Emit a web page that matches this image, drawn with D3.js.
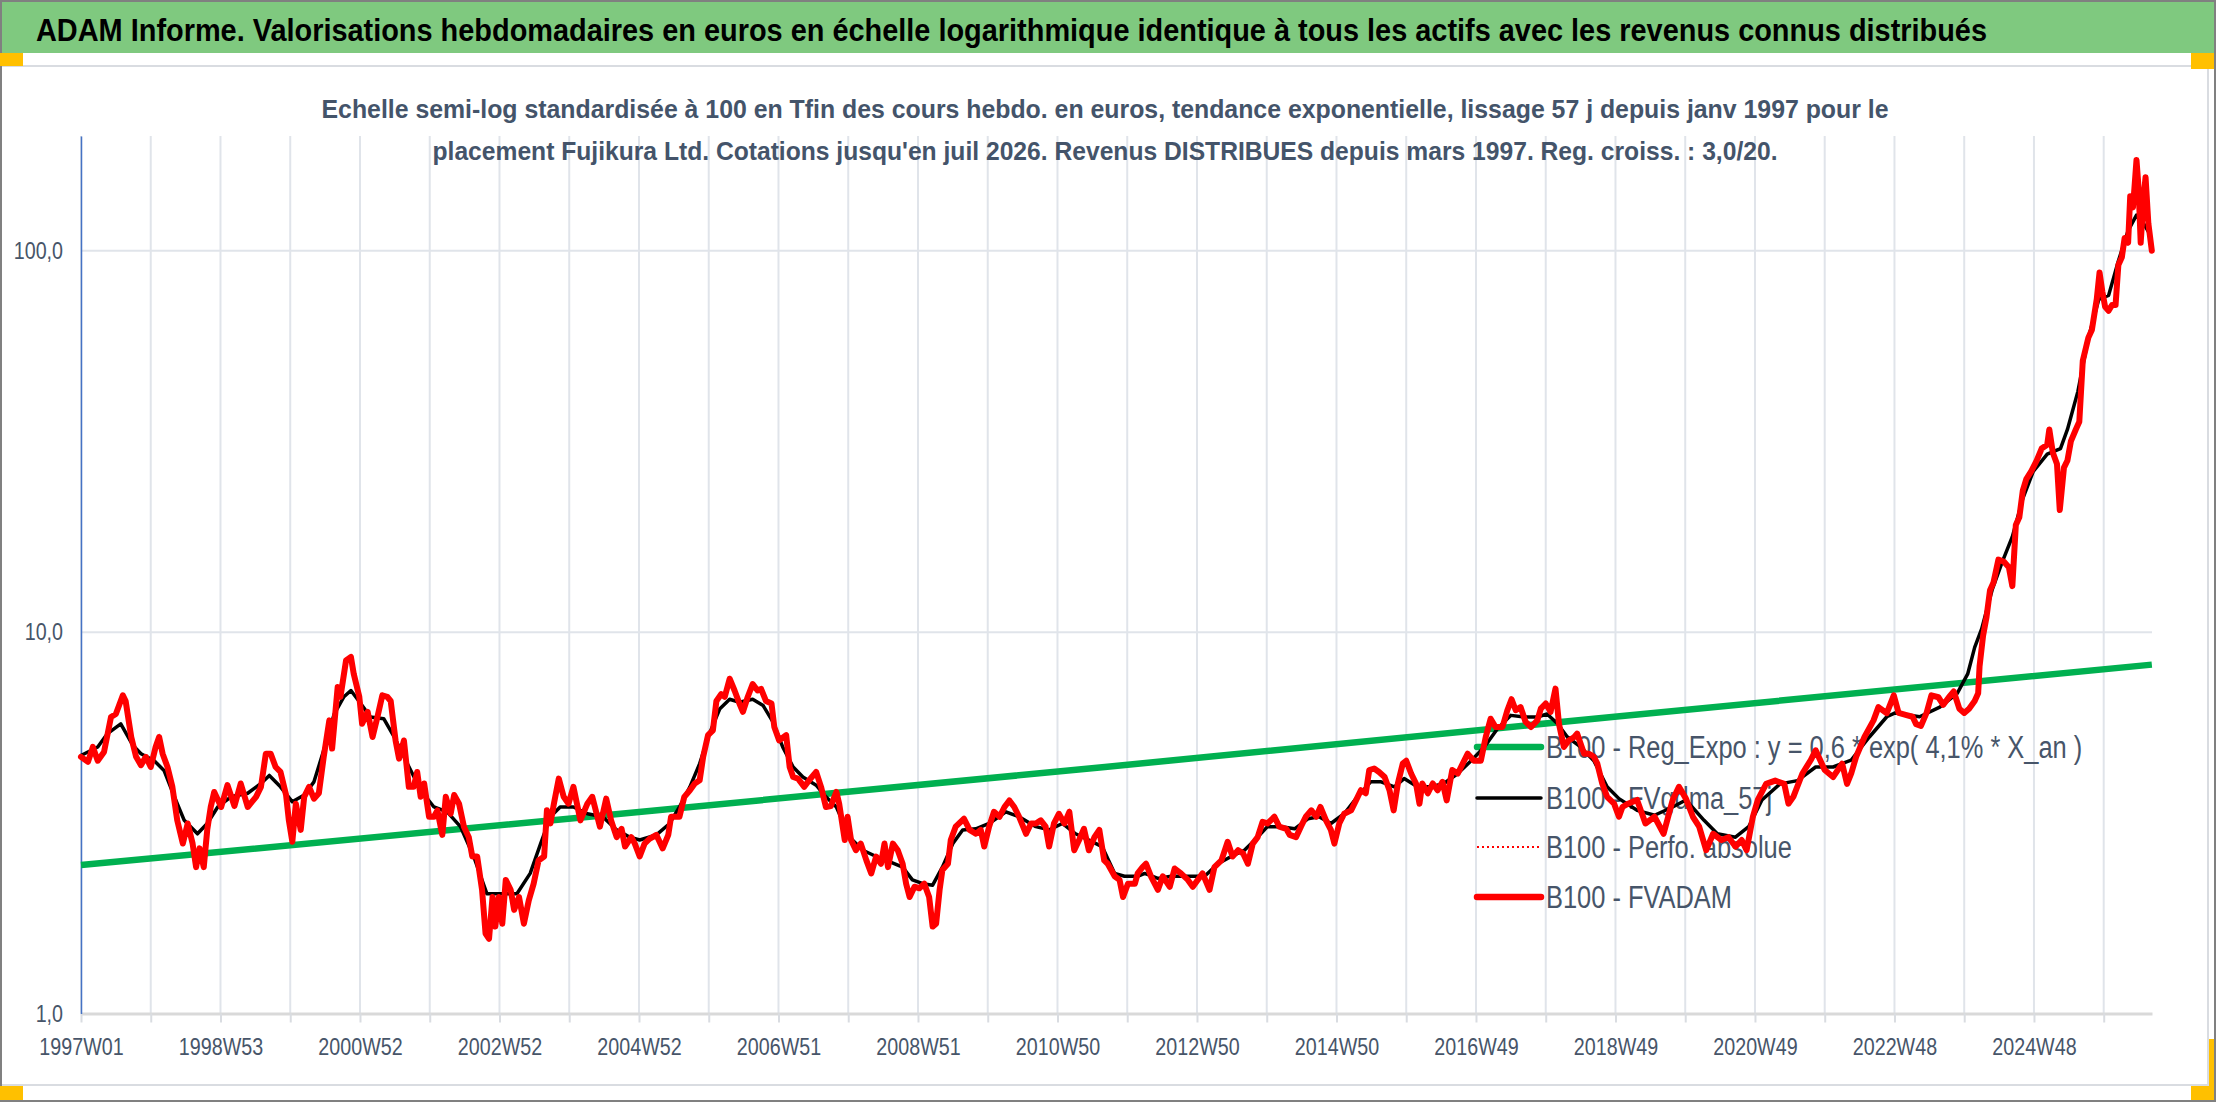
<!DOCTYPE html>
<html>
<head>
<meta charset="utf-8">
<script src="https://cdn.jsdelivr.net/npm/d3@7"></script>
<style>
  body { margin: 0; background: #fff; }
  svg { display: block; }
  text { font-family: "Liberation Sans Narrow", "Arial Narrow", "Liberation Sans", sans-serif; }
</style>
</head>
<body>
<svg id="chart" width="2216" height="1102"></svg>
<script>
// ---- data (x = position in 52-week blocks since 1997W01, y = base 100 value) ----
var nWeeks = 1545;
var xTickLabels = ["1997W01", "1998W53", "2000W52", "2002W52", "2004W52", "2006W51", "2008W51",
  "2010W50", "2012W50", "2014W50", "2016W49", "2018W49", "2020W49", "2022W48", "2024W48"];
var yTickValues = [1, 10, 100];

var regExpo = [[0, 2.45], [7.29, 3.28], [14.68, 4.43], [22.06, 6.02], [29.69, 8.22]];

var fvgdma = [
  [0, 4.75], [0.24, 5.0], [0.38, 5.42], [0.57, 5.75], [0.74, 5.06], [0.86, 4.8], [1.05, 4.6], [1.19, 4.34],
  [1.34, 3.70], [1.48, 3.21], [1.67, 2.96], [1.81, 3.15], [1.96, 3.48], [2.15, 3.70], [2.39, 3.78], [2.58, 4.01],
  [2.70, 4.21], [2.86, 3.93], [3.03, 3.59], [3.20, 3.74], [3.34, 4.05], [3.48, 4.9], [3.63, 6.1], [3.77, 6.77],
  [3.87, 7.03], [4.01, 6.5], [4.15, 5.99], [4.34, 5.93], [4.49, 5.31], [4.68, 4.52], [4.87, 3.85], [5.06, 3.48],
  [5.25, 3.38], [5.44, 3.09], [5.63, 2.58], [5.82, 2.06], [6.06, 2.06], [6.25, 2.06], [6.44, 2.33], [6.59, 2.79],
  [6.73, 3.28], [6.87, 3.48], [7.06, 3.48], [7.26, 3.34], [7.48, 3.28], [7.68, 3.03], [7.87, 2.90], [8.01, 2.85],
  [8.25, 2.94], [8.44, 3.15], [8.58, 3.48], [8.73, 3.93], [8.87, 4.52], [9.01, 5.42], [9.16, 6.30], [9.30, 6.67],
  [9.44, 6.55], [9.63, 6.67], [9.78, 6.42], [9.92, 5.82], [10.06, 5.0], [10.21, 4.43], [10.35, 4.17], [10.54, 3.97],
  [10.68, 3.70], [10.83, 3.48], [11.02, 2.90], [11.21, 2.68], [11.40, 2.58], [11.59, 2.50], [11.78, 2.42], [11.92, 2.24],
  [12.07, 2.19], [12.21, 2.17], [12.35, 2.42], [12.50, 2.79], [12.64, 3.03], [12.83, 3.05], [13.02, 3.15], [13.26, 3.38],
  [13.45, 3.28], [13.69, 3.09], [13.88, 3.03], [14.07, 3.15], [14.26, 2.96], [14.45, 2.85], [14.64, 2.74], [14.82, 2.33],
  [14.96, 2.29], [15.15, 2.29], [15.25, 2.33], [15.44, 2.26], [15.63, 2.29], [15.87, 2.29], [16.11, 2.29], [16.30, 2.47],
  [16.49, 2.58], [16.68, 2.68], [16.87, 2.90], [17.01, 3.09], [17.21, 3.09], [17.40, 3.05], [17.59, 3.24], [17.75, 3.28],
  [17.92, 3.15], [18.11, 3.34], [18.30, 3.70], [18.49, 4.05], [18.64, 4.05], [18.83, 3.93], [18.97, 4.13], [19.16, 3.93],
  [19.35, 3.93], [19.54, 4.01], [19.74, 4.26], [19.93, 4.6], [20.12, 5.0], [20.31, 5.59], [20.50, 6.05], [20.69, 5.99],
  [20.88, 5.99], [21.02, 6.1], [21.17, 5.75], [21.31, 5.31], [21.50, 5.0], [21.69, 4.6], [21.88, 3.93], [22.05, 3.66],
  [22.31, 3.41], [22.56, 3.31], [22.82, 3.48], [23.01, 3.63], [23.27, 3.21], [23.46, 2.96], [23.72, 2.90], [23.91, 3.09],
  [24.10, 3.63], [24.36, 4.0], [24.61, 4.08], [24.87, 4.43], [25.12, 4.43], [25.38, 4.62], [25.64, 5.31], [25.89, 6.0],
  [26.01, 6.14], [26.36, 6.0], [26.65, 6.36], [26.90, 6.91], [27.05, 7.77], [27.15, 9.12], [27.25, 10.2], [27.40, 12.9],
  [27.54, 15.2], [27.69, 17.8], [27.84, 22.4], [27.99, 26.4], [28.19, 29.3], [28.38, 30.3], [28.48, 34.0], [28.63, 42.8],
  [28.78, 59.2], [28.93, 74.6], [29.07, 76.4], [29.21, 94], [29.35, 113], [29.47, 124], [29.57, 118], [29.67, 110]
];

var fvadam = [
  [0, 4.71], [0.10, 4.57], [0.17, 5.0], [0.24, 4.6], [0.33, 4.85], [0.43, 5.99], [0.50, 6.1], [0.60, 6.83],
  [0.64, 6.6], [0.72, 5.31], [0.79, 4.71], [0.86, 4.48], [0.93, 4.71], [1.00, 4.43], [1.07, 5.0], [1.12, 5.31],
  [1.17, 4.8], [1.24, 4.43], [1.31, 3.93], [1.38, 3.21], [1.46, 2.79], [1.53, 3.15], [1.60, 2.79], [1.65, 2.42],
  [1.70, 2.71], [1.76, 2.42], [1.81, 3.03], [1.86, 3.48], [1.91, 3.81], [2.01, 3.48], [2.10, 3.97], [2.20, 3.5],
  [2.29, 4.01], [2.39, 3.48], [2.51, 3.70], [2.58, 3.93], [2.65, 4.80], [2.72, 4.80], [2.79, 4.43], [2.86, 4.30],
  [2.94, 3.74], [2.98, 3.21], [3.03, 2.82], [3.08, 3.55], [3.15, 3.03], [3.20, 3.70], [3.27, 3.93], [3.34, 3.66],
  [3.41, 3.78], [3.48, 4.71], [3.56, 5.87], [3.60, 4.95], [3.68, 7.18], [3.72, 6.77], [3.80, 8.43], [3.87, 8.61],
  [3.91, 7.78], [3.99, 6.77], [4.03, 5.75], [4.11, 6.18], [4.18, 5.31], [4.25, 5.99], [4.32, 6.83], [4.39, 6.77],
  [4.44, 6.6], [4.51, 5.2], [4.56, 4.66], [4.63, 5.2], [4.70, 3.93], [4.77, 3.93], [4.82, 4.30], [4.87, 3.70],
  [4.92, 4.01], [4.99, 3.28], [5.06, 3.28], [5.11, 3.41], [5.18, 2.94], [5.23, 3.70], [5.30, 3.34], [5.35, 3.74],
  [5.42, 3.55], [5.49, 3.09], [5.56, 2.90], [5.61, 2.58], [5.68, 2.58], [5.75, 2.11], [5.80, 1.62], [5.85, 1.57],
  [5.90, 2.02], [5.94, 1.69], [5.99, 2.02], [6.04, 1.72], [6.09, 2.24], [6.16, 2.11], [6.21, 1.87], [6.28, 2.02],
  [6.35, 1.72], [6.42, 1.98], [6.49, 2.19], [6.56, 2.52], [6.64, 2.58], [6.68, 3.41], [6.73, 3.15], [6.78, 3.55],
  [6.85, 4.13], [6.92, 3.70], [6.99, 3.55], [7.06, 3.93], [7.16, 3.21], [7.26, 3.55], [7.33, 3.70], [7.44, 3.09],
  [7.53, 3.66], [7.60, 3.21], [7.68, 2.90], [7.75, 3.05], [7.80, 2.74], [7.89, 2.90], [7.94, 2.79], [8.01, 2.58],
  [8.08, 2.79], [8.15, 2.87], [8.25, 2.94], [8.34, 2.71], [8.42, 2.94], [8.46, 3.28], [8.58, 3.28], [8.65, 3.70],
  [8.73, 3.85], [8.80, 4.01], [8.87, 4.09], [8.92, 4.71], [8.99, 5.37], [9.06, 5.53], [9.11, 6.6], [9.18, 6.88],
  [9.23, 6.77], [9.30, 7.55], [9.37, 7.03], [9.44, 6.5], [9.49, 6.18], [9.56, 6.77], [9.63, 7.31], [9.70, 7.03],
  [9.75, 7.1], [9.82, 6.6], [9.90, 6.5], [9.94, 5.64], [10.01, 5.2], [10.11, 5.37], [10.16, 4.43], [10.21, 4.17],
  [10.28, 4.13], [10.37, 3.93], [10.44, 4.09], [10.54, 4.30], [10.61, 3.93], [10.68, 3.48], [10.75, 3.5], [10.83, 3.81],
  [10.87, 3.55], [10.95, 2.85], [10.99, 3.28], [11.04, 2.85], [11.11, 2.68], [11.18, 2.79], [11.26, 2.52], [11.33, 2.33],
  [11.40, 2.58], [11.47, 2.47], [11.52, 2.79], [11.57, 2.42], [11.64, 2.79], [11.71, 2.68], [11.78, 2.47], [11.83, 2.19],
  [11.88, 2.02], [11.95, 2.15], [12.02, 2.13], [12.09, 2.19], [12.16, 2.02], [12.21, 1.69], [12.26, 1.72], [12.31, 2.11],
  [12.35, 2.38], [12.43, 2.47], [12.47, 2.85], [12.54, 3.09], [12.66, 3.24], [12.74, 3.03], [12.83, 2.96], [12.90, 3.03],
  [12.95, 2.74], [13.02, 3.09], [13.09, 3.38], [13.17, 3.28], [13.24, 3.48], [13.31, 3.62], [13.38, 3.48], [13.45, 3.28],
  [13.55, 2.96], [13.62, 3.15], [13.69, 3.15], [13.76, 3.21], [13.83, 3.09], [13.88, 2.74], [13.95, 3.15], [14.02, 3.34],
  [14.10, 3.15], [14.17, 3.38], [14.24, 2.68], [14.31, 2.85], [14.38, 3.05], [14.45, 2.68], [14.53, 2.90], [14.60, 3.03],
  [14.67, 2.52], [14.72, 2.47], [14.82, 2.29], [14.89, 2.24], [14.94, 2.02], [15.01, 2.19], [15.11, 2.19], [15.15, 2.33],
  [15.22, 2.42], [15.27, 2.47], [15.34, 2.29], [15.44, 2.11], [15.51, 2.29], [15.61, 2.15], [15.68, 2.40], [15.77, 2.33],
  [15.87, 2.24], [15.94, 2.15], [16.01, 2.24], [16.08, 2.33], [16.18, 2.11], [16.25, 2.42], [16.35, 2.52], [16.44, 2.82],
  [16.51, 2.58], [16.59, 2.68], [16.66, 2.63], [16.73, 2.47], [16.80, 2.79], [16.87, 2.90], [16.94, 3.18], [17.01, 3.15],
  [17.11, 3.28], [17.18, 3.09], [17.28, 3.05], [17.33, 2.94], [17.42, 2.90], [17.49, 3.09], [17.56, 3.28], [17.64, 3.41],
  [17.71, 3.28], [17.77, 3.48], [17.85, 3.21], [17.92, 3.03], [17.97, 2.79], [18.04, 3.15], [18.11, 3.34], [18.21, 3.41],
  [18.28, 3.62], [18.35, 3.85], [18.42, 3.78], [18.47, 4.35], [18.54, 4.39], [18.61, 4.30], [18.69, 4.17], [18.76, 3.85],
  [18.82, 3.41], [18.88, 4.01], [18.95, 4.52], [19.00, 4.6], [19.07, 4.26], [19.14, 4.01], [19.19, 3.55], [19.23, 4.01],
  [19.31, 3.78], [19.38, 4.01], [19.45, 3.85], [19.52, 4.05], [19.58, 3.62], [19.66, 4.35], [19.74, 4.26], [19.81, 4.52],
  [19.88, 4.80], [19.97, 4.6], [20.07, 4.6], [20.14, 5.31], [20.21, 5.93], [20.28, 5.64], [20.38, 5.64], [20.45, 6.24],
  [20.51, 6.67], [20.57, 6.24], [20.64, 6.36], [20.71, 5.82], [20.79, 5.64], [20.88, 5.87], [20.93, 6.30], [21.00, 6.5],
  [21.07, 6.18], [21.14, 7.11], [21.19, 5.75], [21.26, 5.0], [21.33, 5.2], [21.41, 5.31], [21.45, 5.42], [21.55, 4.8],
  [21.62, 4.8], [21.69, 4.71], [21.74, 4.52], [21.81, 4.01], [21.88, 3.70], [21.98, 3.55], [22.05, 3.28], [22.10, 3.48],
  [22.18, 3.55], [22.31, 3.63], [22.43, 3.15], [22.56, 3.28], [22.69, 2.96], [22.82, 3.63], [22.91, 3.93], [23.01, 3.66],
  [23.11, 3.28], [23.20, 3.09], [23.30, 2.68], [23.40, 2.96], [23.52, 2.85], [23.62, 2.90], [23.72, 2.74], [23.81, 2.85],
  [23.88, 2.68], [23.97, 3.28], [24.04, 3.63], [24.16, 4.0], [24.29, 4.08], [24.42, 4.0], [24.48, 3.55], [24.55, 3.70],
  [24.68, 4.26], [24.80, 4.62], [24.87, 4.90], [25.00, 4.35], [25.12, 4.17], [25.25, 4.52], [25.32, 4.0], [25.38, 4.26],
  [25.45, 4.71], [25.57, 5.31], [25.70, 5.87], [25.77, 6.36], [25.89, 6.13], [25.99, 6.83], [26.06, 6.14], [26.16, 6.07],
  [26.26, 6.0], [26.31, 5.74], [26.38, 5.68], [26.46, 6.14], [26.53, 6.83], [26.63, 6.75], [26.70, 6.45], [26.78, 6.75],
  [26.85, 6.99], [26.93, 6.30], [27.00, 6.14], [27.07, 6.30], [27.15, 6.60], [27.20, 6.91], [27.22, 8.13], [27.27, 9.77],
  [27.32, 10.96], [27.37, 12.88], [27.42, 13.5], [27.49, 15.5], [27.57, 15.3], [27.64, 14.8], [27.69, 13.2], [27.74, 19.1],
  [27.79, 20.0], [27.84, 23.5], [27.89, 25.2], [27.96, 26.4], [28.04, 28.2], [28.11, 30.3], [28.19, 31.0], [28.22, 34.0],
  [28.27, 29.6], [28.33, 27.6], [28.37, 20.9], [28.43, 27.0], [28.48, 28.2], [28.53, 31.7], [28.60, 34.0], [28.65, 35.6],
  [28.70, 51.5], [28.78, 59.2], [28.83, 62.0], [28.90, 74.6], [28.94, 87.7], [28.98, 78.2], [29.02, 71.3], [29.07, 69.6],
  [29.12, 72.1], [29.17, 72.1], [29.21, 91.8], [29.26, 96.2], [29.30, 108], [29.35, 105], [29.38, 139], [29.42, 130],
  [29.47, 173], [29.50, 146], [29.53, 105], [29.57, 136], [29.60, 156], [29.64, 118], [29.69, 100]
];
// same values as FVADAM, drawn dotted underneath
var perfoAbsolue = fvadam;

var titleText = "ADAM Informe. Valorisations hebdomadaires en euros en échelle logarithmique identique à tous les actifs avec les revenus connus distribués";
var subtitleLines = [
  "Echelle semi-log standardisée à 100 en Tfin des cours hebdo. en euros, tendance exponentielle, lissage 57 j depuis janv 1997 pour le",
  "placement Fujikura Ltd. Cotations jusqu'en juil 2026. Revenus DISTRIBUES depuis mars 1997. Reg. croiss. : 3,0/20."
];
var legendLabels = [
  "B100 - Reg_Expo : y = 0,6 * exp( 4,1% *  X_an )",
  "B100 - FVgdma_57j",
  "B100 - Perfo. absolue",
  "B100 - FVADAM"
];

// ---- layout ----
var svg = d3.select("#chart");
var plot = { left: 81, right: 2152, top: 136, bottom: 1013.5 };
var textColor = "#475569";

// no narrow face installed? then squeeze the regular one
var probe = svg.append("text").attr("font-size", 40).text("B100 - FVADAM 2024W48");
var wNarrow = probe.node().getComputedTextLength();
probe.style("font-family", "'Liberation Sans', sans-serif");
var wRegular = probe.node().getComputedTextLength();
probe.remove();
var squeeze = wNarrow / wRegular > 0.92 ? 0.82 : 1;

function condense(sel) {
  sel.each(function () {
    var w = this.getComputedTextLength();
    if (w > 0 && squeeze < 1) {
      d3.select(this).attr("textLength", w * squeeze).attr("lengthAdjust", "spacingAndGlyphs");
    }
  });
}

var x = d3.scaleLinear().domain([0, (nWeeks - 1) / 52]).range([plot.left, plot.right]);
var y = d3.scaleLog().domain([1, 200]).range([plot.bottom, plot.top]);

// frame and header band
svg.append("rect").attr("x", 1).attr("y", 66).attr("width", 2207).attr("height", 1019)
  .attr("fill", "#fff").attr("stroke", "#d9dce1").attr("stroke-width", 2);
svg.append("rect").attr("x", 2).attr("y", 2).attr("width", 2212).attr("height", 51).attr("fill", "#7fc97f");
svg.append("rect").attr("x", 1).attr("y", 1).attr("width", 2214).attr("height", 1100)
  .attr("fill", "none").attr("stroke", "#808080").attr("stroke-width", 2);

var orange = "#ffc000";
[[0, 53, 23, 13], [2191, 53, 23, 16], [0, 1086, 23, 14], [2191, 1086, 23, 14], [2209, 1039, 5, 50]].forEach(function (r) {
  svg.append("rect").attr("x", r[0]).attr("y", r[1]).attr("width", r[2]).attr("height", r[3]).attr("fill", orange);
});

svg.append("text").attr("x", 36).attr("y", 41)
  .attr("font-size", 32).attr("font-weight", "bold").attr("fill", "#000")
  .attr("textLength", 1951).attr("lengthAdjust", "spacingAndGlyphs")
  .text(titleText);

// gridlines
var g = svg.append("g");
g.selectAll(".vgrid").data(d3.range(0, 30)).enter().append("line")
  .attr("x1", function (d) { return x(d); }).attr("x2", function (d) { return x(d); })
  .attr("y1", plot.top).attr("y2", plot.bottom)
  .attr("stroke", "#e0e4ea").attr("stroke-width", 2);
g.selectAll(".hgrid").data([10, 100]).enter().append("line")
  .attr("x1", plot.left).attr("x2", plot.right)
  .attr("y1", function (d) { return y(d); }).attr("y2", function (d) { return y(d); })
  .attr("stroke", "#e0e4ea").attr("stroke-width", 2);

// subtitle (drawn after gridlines, they run behind the second line)
var subWidths = [1567, 1345];
var subY = [118, 160];
subtitleLines.forEach(function (s, i) {
  svg.append("text").attr("x", 1105).attr("y", subY[i]).attr("text-anchor", "middle")
    .style("font-family", "'Liberation Sans', sans-serif")
    .attr("font-size", 25).attr("font-weight", "bold").attr("fill", "#44546a")
    .attr("textLength", subWidths[i]).attr("lengthAdjust", "spacingAndGlyphs")
    .text(s);
});

// axes
var xAxis = d3.axisBottom(x)
  .tickValues(d3.range(0, 30))
  .tickFormat(function (d) { return d % 2 === 0 ? xTickLabels[d / 2] : ""; })
  .tickSize(9).tickSizeOuter(0).tickPadding(15);
var gx = svg.append("g").attr("transform", "translate(0," + plot.bottom + ")").call(xAxis);
gx.select(".domain").attr("stroke", "#d9d9d9").attr("stroke-width", 3);
gx.selectAll(".tick line").attr("stroke", "#d9dce1").attr("stroke-width", 2);
gx.selectAll(".tick text").attr("font-size", 24).attr("fill", textColor)
  .style("font-family", null).call(condense);

var yAxis = d3.axisLeft(y)
  .tickValues(yTickValues)
  .tickFormat(function (d) { return d3.format(".1f")(d).replace(".", ","); })
  .tickSize(0).tickSizeOuter(0).tickPadding(18);
var gy = svg.append("g").attr("transform", "translate(" + plot.left + ",0)").call(yAxis);
gy.attr("font-family", null);
gx.attr("font-family", null);
gy.select(".domain").attr("stroke", "#4472c4").attr("stroke-width", 1.5);
gy.selectAll(".tick text").attr("font-size", 24).attr("fill", textColor).call(condense);

// legend (lies under the series)
var legendStyles = [
  { color: "#00b050", width: 6.5, dash: null },
  { color: "#000000", width: 3.5, dash: null },
  { color: "#ff0000", width: 2, dash: "2,3" },
  { color: "#ff0000", width: 6.5, dash: null }
];
var legendY = [747, 798, 847, 897];
var lg = svg.append("g");
legendLabels.forEach(function (lab, i) {
  var st = legendStyles[i];
  lg.append("line").attr("x1", 1477).attr("x2", 1541).attr("y1", legendY[i]).attr("y2", legendY[i])
    .attr("stroke", st.color).attr("stroke-width", st.width)
    .attr("stroke-dasharray", st.dash).attr("stroke-linecap", st.dash ? "butt" : "round");
  lg.append("text").attr("x", 1546).attr("y", legendY[i] + 11)
    .attr("font-size", 31).attr("fill", textColor).text(lab);
});
lg.selectAll("text").call(condense);

// series
var line = d3.line()
  .x(function (d) { return x(d[0]); })
  .y(function (d) { return y(d[1]); });

svg.append("path").datum(regExpo).attr("d", line)
  .attr("fill", "none").attr("stroke", "#00b050").attr("stroke-width", 6.5);
svg.append("path").datum(fvgdma).attr("d", line)
  .attr("fill", "none").attr("stroke", "#000").attr("stroke-width", 3.5).attr("stroke-linejoin", "round");
svg.append("path").datum(perfoAbsolue).attr("d", line)
  .attr("fill", "none").attr("stroke", "#ff0000").attr("stroke-width", 2).attr("stroke-dasharray", "2,3");
svg.append("path").datum(fvadam).attr("d", line)
  .attr("fill", "none").attr("stroke", "#ff0000").attr("stroke-width", 6)
  .attr("stroke-linejoin", "round").attr("stroke-linecap", "round");
</script>
</body>
</html>
